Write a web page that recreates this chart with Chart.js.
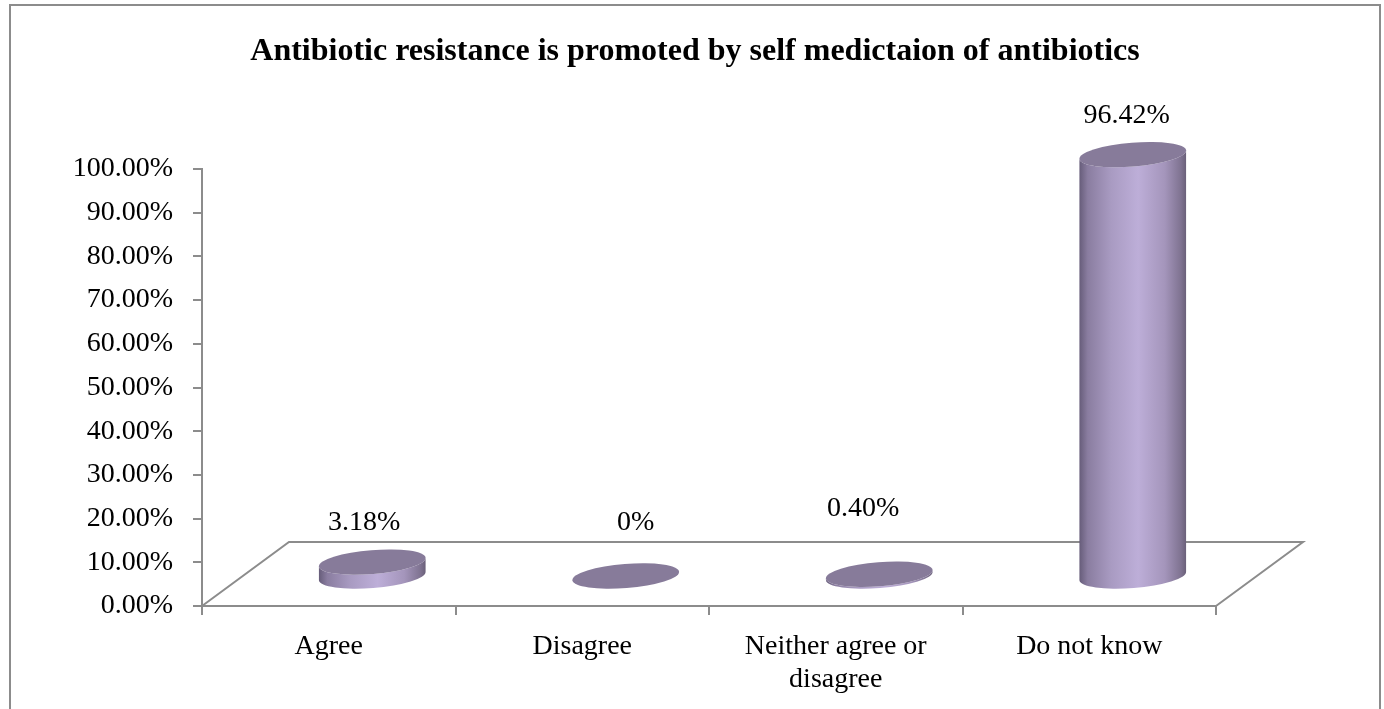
<!DOCTYPE html>
<html>
<head>
<meta charset="utf-8">
<script src="https://cdn.jsdelivr.net/npm/chart.js@4.4.1/dist/chart.umd.min.js"></script>
<style>
  html, body { margin: 0; padding: 0; background: #ffffff; }
  #wrap { width: 1384px; height: 709px; position: relative; }
</style>
</head>
<body>
<div id="wrap"><canvas id="c" width="1384" height="709"></canvas></div>
<script>
// ---- data ----
const titleText = 'Antibiotic resistance is promoted by self medictaion of antibiotics';
const categories = ['Agree', 'Disagree', ['Neither agree or', 'disagree'], 'Do not know'];
const values = [3.18, 0, 0.40, 96.42];
const valueLabels = ['3.18%', '0%', '0.40%', '96.42%'];
const yMin = 0, yMax = 100, yStep = 10;

// ---- layout / style (not data) ----
const FONT = '"Liberation Serif", "Times New Roman", serif';
const AXIS = '#8c8c8c';
const DEPTH_X = 87, DEPTH_Y = -64;       // floor depth offset
const labelNudge = [[-8, 1], [10, -13], [-16, -26], [-6, 1]];

const cylinderPlugin = {
  id: 'cyl3d',
  beforeDatasetsDraw(chart) {
    const ctx = chart.ctx, a = chart.chartArea;
    const yb = chart.scales.y.getPixelForValue(yMin);
    ctx.save();
    ctx.strokeStyle = AXIS;
    ctx.lineWidth = 2;
    ctx.beginPath();
    ctx.moveTo(a.left, yb);
    ctx.lineTo(a.left + DEPTH_X, yb + DEPTH_Y);
    ctx.lineTo(a.right + DEPTH_X, yb + DEPTH_Y);
    ctx.lineTo(a.right, yb);
    ctx.stroke();
    ctx.restore();
  },
  afterDatasetsDraw(chart) {
    const ctx = chart.ctx;
    const ys = chart.scales.y;
    const meta = chart.getDatasetMeta(0);
    const base0 = ys.getPixelForValue(0);
    const rx = 53.5, ry = 12, rot = -0.08;
    ctx.save();
    meta.data.forEach((bar, i) => {
      const cx = bar.x + DEPTH_X / 2;
      const by = base0 + DEPTH_Y / 2 + 2;
      const ty = by - (base0 - ys.getPixelForValue(values[i]));
      if (by - ty > 0.5) {
        const g = ctx.createLinearGradient(cx - rx, 0, cx + rx, 0);
        g.addColorStop(0, '#665c79');
        g.addColorStop(0.08, '#8a7da0');
        g.addColorStop(0.3, '#a99bc2');
        g.addColorStop(0.55, '#bdaed8');
        g.addColorStop(0.8, '#a495bb');
        g.addColorStop(0.95, '#7f7391');
        g.addColorStop(1, '#6a6079');
        ctx.fillStyle = g;
        ctx.beginPath();
        ctx.ellipse(cx, by, rx, ry, rot, Math.PI, 0, true);
        ctx.lineTo(cx + rx * Math.cos(rot), ty + rx * Math.sin(rot));
        ctx.ellipse(cx, ty, rx, ry, rot, 0, Math.PI, false);
        ctx.closePath();
        ctx.fill();
      }
      ctx.fillStyle = '#877b9a';
      ctx.beginPath();
      ctx.ellipse(cx, ty, rx, ry, rot, 0, Math.PI * 2);
      ctx.fill();
      ctx.fillStyle = '#000';
      ctx.font = '28px ' + FONT;
      ctx.textAlign = 'center';
      ctx.textBaseline = 'middle';
      ctx.fillText(valueLabels[i], cx + labelNudge[i][0], ty - 40 + labelNudge[i][1]);
    });
    ctx.restore();
  },
  afterDraw(chart) {
    const ctx = chart.ctx;
    ctx.save();
    ctx.fillStyle = '#000';
    ctx.font = 'bold 32px ' + FONT;
    ctx.textAlign = 'center';
    ctx.textBaseline = 'middle';
    ctx.fillText(titleText, 695, 52);
    ctx.strokeStyle = AXIS;
    ctx.lineWidth = 2;
    ctx.strokeRect(10, 5, 1370, 740);
    ctx.restore();
  }
};

new Chart(document.getElementById('c'), {
  type: 'bar',
  data: {
    labels: categories,
    datasets: [{
      data: values,
      backgroundColor: 'rgba(0,0,0,0)',
      borderWidth: 0
    }]
  },
  options: {
    responsive: false,
    animation: false,
    devicePixelRatio: 1,
    layout: { padding: { top: 169, left: 0, right: 168, bottom: 0 } },
    plugins: {
      legend: { display: false },
      tooltip: { enabled: false },
      title: { display: false }
    },
    scales: {
      x: {
        grid: { drawOnChartArea: false, drawTicks: true, tickLength: 9, color: AXIS, lineWidth: 2, offset: true },
        border: { display: true, color: AXIS, width: 2 },
        ticks: { color: '#000', font: { family: FONT, size: 28, lineHeight: 1.15 }, padding: 16, maxRotation: 0, autoSkip: false },
        afterFit: (s) => { s.height = 103; }
      },
      y: {
        min: yMin, max: yMax,
        grid: { drawOnChartArea: false, drawTicks: true, tickLength: 9, color: AXIS, lineWidth: 2 },
        border: { display: true, color: AXIS, width: 2 },
        ticks: { stepSize: yStep, color: '#000', font: { family: FONT, size: 28 }, padding: 20,
                 callback: (v) => Number(v).toFixed(2) + '%' },
        afterFit: (s) => { s.width = 202; }
      }
    }
  },
  plugins: [cylinderPlugin]
});
</script>
</body>
</html>
